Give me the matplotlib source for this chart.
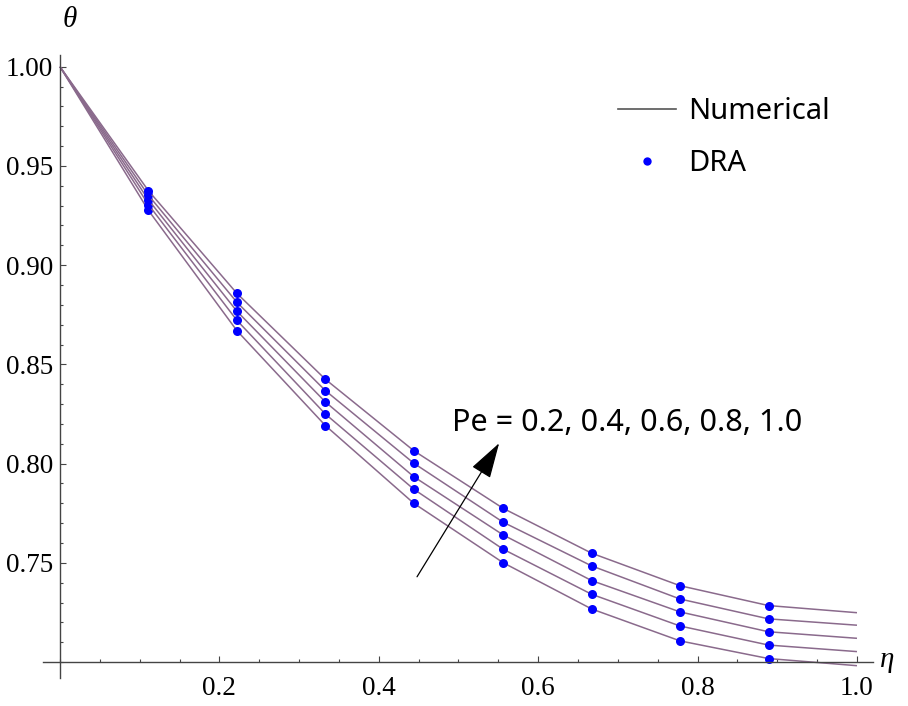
import matplotlib
matplotlib.use("Agg")
import matplotlib.pyplot as plt
from matplotlib.lines import Line2D
from matplotlib.ticker import MultipleLocator, FixedLocator

# eta positions of the curves
eta_line = [0.0, 0.111, 0.222, 0.333, 0.444, 0.556, 0.667, 0.778, 0.889, 1.0]
# DRA points sit on the inner positions
eta_dra = eta_line[1:-1]

pe_values = [0.2, 0.4, 0.6, 0.8, 1.0]
theta_pe02 = [1.0, 0.9276, 0.8670, 0.8192, 0.7800, 0.7501, 0.7268, 0.7107, 0.7018, 0.6982]
theta_pe04 = [1.0, 0.9305, 0.8722, 0.8250, 0.7871, 0.7569, 0.7342, 0.7182, 0.7086, 0.7053]
theta_pe06 = [1.0, 0.9329, 0.8768, 0.8311, 0.7934, 0.7641, 0.7411, 0.7253, 0.7153, 0.7120]
theta_pe08 = [1.0, 0.9352, 0.8813, 0.8368, 0.8002, 0.7705, 0.7485, 0.7318, 0.7218, 0.7186]
theta_pe10 = [1.0, 0.9375, 0.8858, 0.8425, 0.8065, 0.7775, 0.7549, 0.7385, 0.7285, 0.7249]
curves = [theta_pe02, theta_pe04, theta_pe06, theta_pe08, theta_pe10]

x_ticks = [0.2, 0.4, 0.6, 0.8, 1.0]
y_ticks = [0.75, 0.80, 0.85, 0.90, 0.95, 1.00]

W, H = 908, 706
fig = plt.figure(figsize=(W / 100, H / 100), dpi=100)
# axes box chosen so that the axis lines overshoot the origin like Mathematica does
ax = fig.add_axes([43 / W, 1 - 678 / H, (873 - 43) / W, (678 - 55) / H])
ax.set_xlim(-0.0213, 1.0201)
ax.set_ylim(0.6920, 1.0059)

line_col = "#8a6a8c"
for th in curves:
    ax.plot(eta_line, th, color=line_col, lw=1.1, solid_capstyle="butt")
    ax.plot(eta_dra, th[1:-1], "o", color="#0000ff", ms=6.5, mec="none")

# Mathematica style axes through (0, 0.70)
for s in ("top", "right"):
    ax.spines[s].set_visible(False)
ax.spines["left"].set_position(("data", 0.0))
ax.spines["bottom"].set_position(("data", 0.70))
for s in ("left", "bottom"):
    ax.spines[s].set_color("#444444")
    ax.spines[s].set_linewidth(1.0)

serif = {"family": "Liberation Serif", "size": 19.5}
ax.xaxis.set_major_locator(FixedLocator(x_ticks))
ax.xaxis.set_minor_locator(MultipleLocator(0.05))
ax.yaxis.set_major_locator(FixedLocator(y_ticks))
ax.yaxis.set_minor_locator(MultipleLocator(0.01))
ax.set_xticklabels(["%.1f" % v for v in x_ticks], fontdict=serif)
ax.set_yticklabels(["%.2f" % v for v in y_ticks], fontdict=serif)
ax.tick_params(which="both", direction="in", color="#444444", width=0.8)
ax.tick_params(which="major", length=4.5)
ax.tick_params(which="minor", length=2.5)
ax.tick_params(axis="x", which="major", pad=10)
ax.tick_params(axis="y", which="major", pad=5)

fig.text(70 / W, 1 - 20 / H, "θ", fontsize=21, family="Liberation Serif",
         style="italic", ha="center", va="center")
fig.text(887 / W, 1 - 660 / H, "η", fontsize=21, family="Liberation Serif",
         style="italic", ha="center", va="center")

# annotation with arrow pointing towards increasing Pe
ax.annotate("", xy=(0.551, 0.8103), xytext=(0.448, 0.7430),
            arrowprops=dict(arrowstyle="-|>,head_length=1.5,head_width=0.45",
                            color="black", lw=0.9, shrinkA=0, shrinkB=0,
                            mutation_scale=15))
ax.text(0.492, 0.8204, "Pe = " + ", ".join("%.1f" % p for p in pe_values),
        fontsize=22, family="Noto Sans", ha="left", va="center")

handles = [Line2D([], [], color="#555555", lw=1.2),
           Line2D([], [], ls="none", marker="o", color="#0000ff", ms=6, mec="none")]
leg = fig.legend(handles, ["Numerical", "DRA"], loc="upper left",
                 bbox_to_anchor=(618 / W, 1 - 97 / H), frameon=False,
                 prop={"family": "Noto Sans", "size": 21},
                 handlelength=2.0, handletextpad=0.4, labelspacing=0.8,
                 borderpad=0, borderaxespad=0)

fig.savefig("out.png", dpi=100)
